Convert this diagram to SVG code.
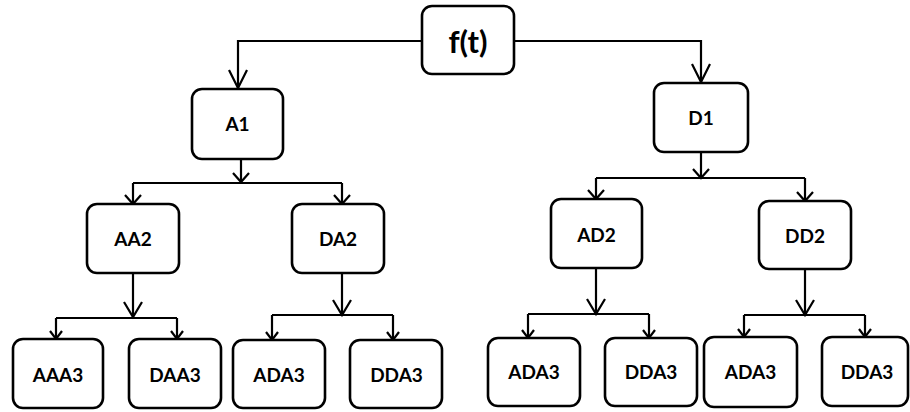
<svg xmlns="http://www.w3.org/2000/svg" width="910" height="412" viewBox="0 0 910 412">
  <style>
    .box { fill: #ffffff; stroke: #000000; stroke-width: 2.6; }
    .lbl { font-family: Lato, "Open Sans", "Liberation Sans", sans-serif; font-weight: bold; font-size: 19px; fill: #000000; text-anchor: middle; }
    .big { font-size: 31px; }
    .wire { fill: none; stroke: #000000; stroke-width: 2.2; }
  </style>
  <defs>
    <!-- open V arrowheads in a few lengths -->
    <marker id="vLong" markerUnits="userSpaceOnUse" markerWidth="24" markerHeight="24" viewBox="-20 -12 24 24" refX="0" refY="0" orient="auto" overflow="visible">
      <path d="M-18,-9 L0,0 L-18,9" fill="none" stroke="#000" stroke-width="2.2"/>
    </marker>
    <marker id="vMid" markerUnits="userSpaceOnUse" markerWidth="24" markerHeight="24" viewBox="-20 -12 24 24" refX="0" refY="0" orient="auto" overflow="visible">
      <path d="M-15,-9 L0,0 L-15,9" fill="none" stroke="#000" stroke-width="2.2"/>
    </marker>
    <marker id="vShort" markerUnits="userSpaceOnUse" markerWidth="24" markerHeight="24" viewBox="-20 -12 24 24" refX="0" refY="0" orient="auto" overflow="visible">
      <path d="M-9,-8 L0,0 L-9,8" fill="none" stroke="#000" stroke-width="2.2"/>
    </marker>
    <marker id="vSmall" markerUnits="userSpaceOnUse" markerWidth="24" markerHeight="24" viewBox="-20 -12 24 24" refX="0" refY="0" orient="auto" overflow="visible">
      <path d="M-8,-6 L0,0 L-8,6" fill="none" stroke="#000" stroke-width="2.2"/>
    </marker>
  </defs>

  <g id="connectors">
    <!-- root split -->
    <path class="wire" d="M422,41 H238 V88" marker-end="url(#vLong)"/>
    <path class="wire" d="M514,41 H701 V82" marker-end="url(#vLong)"/>

    <!-- A1 branch -->
    <path class="wire" d="M241,159 V182" marker-end="url(#vShort)"/>
    <path class="wire" d="M133,183 H342"/>
    <path class="wire" d="M133,183 V204" marker-end="url(#vShort)"/>
    <path class="wire" d="M342,183 V204" marker-end="url(#vShort)"/>

    <!-- AA2 branch -->
    <path class="wire" d="M133,273 V317" marker-end="url(#vMid)"/>
    <path class="wire" d="M56,318 H177"/>
    <path class="wire" d="M56,318 V339" marker-end="url(#vSmall)"/>
    <path class="wire" d="M177,318 V339" marker-end="url(#vSmall)"/>

    <!-- DA2 branch -->
    <path class="wire" d="M342,273 V315" marker-end="url(#vMid)"/>
    <path class="wire" d="M272,315 H393"/>
    <path class="wire" d="M272,315 V340" marker-end="url(#vSmall)"/>
    <path class="wire" d="M393,315 V340" marker-end="url(#vSmall)"/>

    <!-- D1 branch -->
    <path class="wire" d="M701,152 V178" marker-end="url(#vShort)"/>
    <path class="wire" d="M596,178 H805"/>
    <path class="wire" d="M596,178 V199" marker-end="url(#vShort)"/>
    <path class="wire" d="M805,178 V201" marker-end="url(#vShort)"/>

    <!-- AD2 branch -->
    <path class="wire" d="M596,268 V314" marker-end="url(#vMid)"/>
    <path class="wire" d="M528,314 H649"/>
    <path class="wire" d="M528,314 V338" marker-end="url(#vSmall)"/>
    <path class="wire" d="M649,314 V338" marker-end="url(#vSmall)"/>

    <!-- DD2 branch -->
    <path class="wire" d="M805,269 V315" marker-end="url(#vMid)"/>
    <path class="wire" d="M744,315 H865"/>
    <path class="wire" d="M744,315 V337" marker-end="url(#vSmall)"/>
    <path class="wire" d="M865,315 V337" marker-end="url(#vSmall)"/>
  </g>

  <g id="ft">
    <rect class="box" x="422" y="6" width="92" height="68" rx="10"/>
    <text class="lbl big" x="468" y="53">f(t)</text>
  </g>

  <g id="A1">
    <rect class="box" x="192" y="89" width="91" height="70" rx="10"/>
    <text class="lbl" x="237.5" y="131">A1</text>
  </g>
  <g id="D1">
    <rect class="box" x="654" y="83" width="94" height="69" rx="10"/>
    <text class="lbl" x="701" y="124.5">D1</text>
  </g>

  <g id="AA2">
    <rect class="box" x="87" y="204" width="92" height="69" rx="10"/>
    <text class="lbl" x="133" y="246">AA2</text>
  </g>
  <g id="DA2">
    <rect class="box" x="292" y="204" width="92" height="69" rx="10"/>
    <text class="lbl" x="338" y="246">DA2</text>
  </g>
  <g id="AD2">
    <rect class="box" x="551" y="199" width="91" height="69" rx="10"/>
    <text class="lbl" x="596.5" y="242">AD2</text>
  </g>
  <g id="DD2">
    <rect class="box" x="759" y="201" width="92" height="68" rx="10"/>
    <text class="lbl" x="805" y="242.5">DD2</text>
  </g>

  <g id="AAA3">
    <rect class="box" x="13" y="339" width="90" height="69" rx="10"/>
    <text class="lbl" x="58" y="381.5">AAA3</text>
  </g>
  <g id="DAA3">
    <rect class="box" x="129" y="339" width="92" height="69" rx="10"/>
    <text class="lbl" x="175" y="381.5">DAA3</text>
  </g>
  <g id="ADA3-a">
    <rect class="box" x="233" y="340" width="92" height="68" rx="10"/>
    <text class="lbl" x="279" y="381.5">ADA3</text>
  </g>
  <g id="DDA3-a">
    <rect class="box" x="350" y="340" width="92" height="68" rx="10"/>
    <text class="lbl" x="396.5" y="381.5">DDA3</text>
  </g>
  <g id="ADA3-b">
    <rect class="box" x="488" y="338" width="92" height="68" rx="10"/>
    <text class="lbl" x="534" y="379">ADA3</text>
  </g>
  <g id="DDA3-b">
    <rect class="box" x="605" y="338" width="92" height="68" rx="10"/>
    <text class="lbl" x="651" y="379">DDA3</text>
  </g>
  <g id="ADA3-c">
    <rect class="box" x="704" y="337" width="93" height="70" rx="10"/>
    <text class="lbl" x="750.5" y="379">ADA3</text>
  </g>
  <g id="DDA3-c">
    <rect class="box" x="822" y="337" width="86" height="69" rx="10"/>
    <text class="lbl" x="867" y="379">DDA3</text>
  </g>
</svg>
